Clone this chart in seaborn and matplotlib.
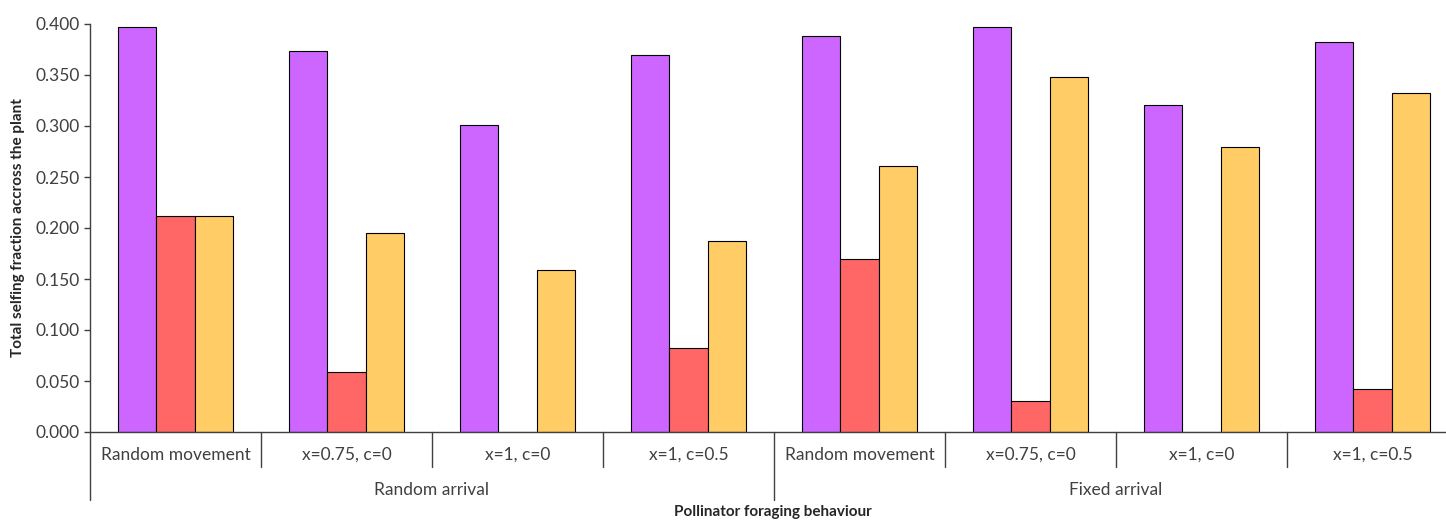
import pandas as pd
import seaborn as sns
import matplotlib.pyplot as plt

# data
arrival = ["Random arrival"] * 4 + ["Fixed arrival"] * 4
movement = ["Random movement", "x=0.75, c=0", "x=1, c=0", "x=1, c=0.5"] * 2
series_a = [0.397, 0.374, 0.301, 0.370, 0.388, 0.397, 0.321, 0.382]
series_b = [0.212, 0.059, 0.000, 0.082, 0.170, 0.030, 0.000, 0.042]
series_c = [0.212, 0.195, 0.159, 0.187, 0.261, 0.348, 0.279, 0.332]
series_names = ["Series 1", "Series 2", "Series 3"]
colors = ["#CC66FF", "#FF6666", "#FFCC66"]

keys = [f"{a}|{m}" for a, m in zip(arrival, movement)]
rows = []
for name, vals in zip(series_names, [series_a, series_b, series_c]):
    for k, v in zip(keys, vals):
        rows.append({"key": k, "series": name, "value": v})
df = pd.DataFrame(rows)

sns.set_theme(style="ticks")
plt.rcParams["font.family"] = ["Lato", "DejaVu Sans"]

W, H = 1446, 523
fig = plt.figure(figsize=(W / 100, H / 100), dpi=100)
# axes reaches a little past the right edge, like the cropped original
ax = fig.add_axes([90 / W, (H - 432) / H, 1368 / W, 408 / H])

sns.barplot(data=df, x="key", y="value", hue="series", order=keys,
            hue_order=series_names, palette=colors, saturation=1,
            width=0.667, edgecolor="black", linewidth=0.8, errorbar=None,
            legend=False, ax=ax)

ax.set_xlim(-0.5, 7.5)
ax.set_ylim(0, 0.4)
ax.set_yticks([i * 0.05 for i in range(9)])
ax.set_yticklabels([f"{i * 0.05:.3f}" for i in range(9)])
ax.tick_params(axis="y", length=4, width=1, colors="#404040",
               labelsize=12.5, labelcolor="#404040")
ax.set_xticks([])
ax.set_xlabel("")
ax.set_ylabel("")

sns.despine(ax=ax)
for s in ["left", "bottom"]:
    ax.spines[s].set_color("#404040")
    ax.spines[s].set_linewidth(1)

trans = ax.get_xaxis_transform()
ph = 408  # axes height in pixels
for i in range(9):
    x = i - 0.5
    depth = 68 if i % 4 == 0 else 35
    ax.plot([x, x], [0, -depth / ph], transform=trans, color="#404040",
            lw=1, clip_on=False)

for i, m in enumerate(movement):
    ax.text(i, -23 / ph, m, transform=trans, ha="center", va="center",
            fontsize=12.5, color="#404040")

for j, a in enumerate(["Random arrival", "Fixed arrival"]):
    ax.text(j * 4 + 1.5, -58 / ph, a, transform=trans, ha="center",
            va="center", fontsize=12.5, color="#404040")

fig.text(18 / W, 1 - 228 / H, "Total selfing fraction accross the plant",
         rotation=90, ha="center", va="center", fontsize=11,
         fontweight="bold")
fig.text(773 / W, 1 - 512 / H, "Pollinator foraging behaviour",
         ha="center", va="center", fontsize=11, fontweight="bold")

fig.savefig("out.png", dpi=100)
